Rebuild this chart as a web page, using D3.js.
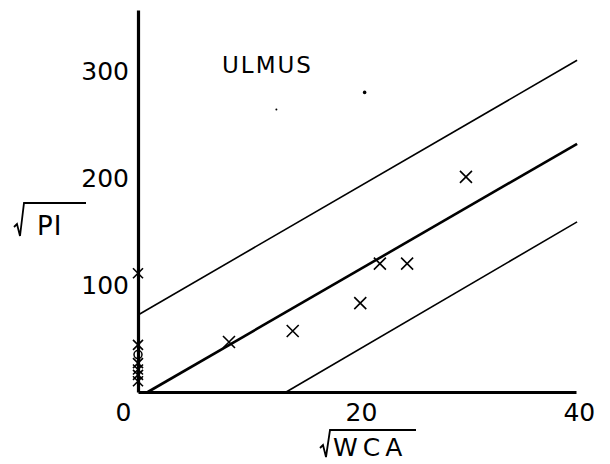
<!DOCTYPE html>
<html>
<head>
<meta charset="utf-8">
<script src="https://cdn.jsdelivr.net/npm/d3@7"></script>
<style>
  body { margin: 0; background: #fff; }
  svg { display: block; font-family: 'DejaVu Sans', sans-serif; }
</style>
</head>
<body>
<div id="chart"></div>
<script>
'use strict';

// sqrt(WCA) vs sqrt(PI) for Ulmus
var xTicks = [0, 20, 40];
var yTicks = [100, 200, 300];

var pointsX = [8.35, 14.2, 20.4, 22.2, 24.7, 30.1];
var pointsY = [46.7, 57, 83, 120, 120, 201];

// samples sitting on the y axis (sqrt WCA = 0)
var axisPointsY = [111, 44, 27, 21, 16, 10];
var axisCircleY = [35];

// fitted line and its two bounds, as end points [x, y]
var centerLine = [[0.9, 0], [40.3, 232]];
var upperLine = [[0, 72], [40.3, 310]];
var lowerLine = [[13.6, 0], [40.3, 159]];

// scan specks
var specksX = [20.8, 12.7];
var specksY = [280, 264];

var W = 610, H = 464;

var x = d3.scaleLinear().domain([0, 40.2]).range([138, 576]);
var y = d3.scaleLinear().domain([0, 357]).range([392, 10]);

var svg = d3.select('#chart')
    .append('svg')
    .attr('width', W)
    .attr('height', H);

var line = d3.line()
    .x(function (d) { return x(d[0]); })
    .y(function (d) { return y(d[1]); });

// bound lines (thin)
svg.selectAll('path.bound')
    .data([upperLine, lowerLine])
    .enter()
    .append('path')
    .attr('class', 'bound')
    .attr('d', line)
    .attr('fill', 'none')
    .attr('stroke', '#000')
    .attr('stroke-width', 1.6);

// fitted line (thick)
svg.append('path')
    .attr('d', line(centerLine))
    .attr('fill', 'none')
    .attr('stroke', '#000')
    .attr('stroke-width', 2.6);

// axes
var xAxis = svg.append('g')
    .attr('transform', 'translate(0,' + y(0) + ')')
    .call(d3.axisBottom(x).tickValues(xTicks).tickSize(0).tickPadding(11).tickFormat(d3.format('d')));

var yAxis = svg.append('g')
    .attr('transform', 'translate(' + x(0) + ',0)')
    .call(d3.axisLeft(y).tickValues(yTicks).tickSize(0).tickPadding(9).tickFormat(d3.format('d')));

[xAxis, yAxis].forEach(function (g) {
    g.select('.domain').attr('stroke', '#000').attr('stroke-width', 3.2);
    g.selectAll('text')
        .attr('fill', '#000')
        .attr('font-family', 'DejaVu Sans, sans-serif')
        .attr('font-size', 25);
});

xAxis.selectAll('.tick text').attr('dx', function (d) { return d === 0 ? -15 : 5; });
yAxis.selectAll('.tick text').attr('dy', '0.34em');

// cross markers
function cross(sel, size) {
    sel.append('path')
        .attr('d', 'M' + (-size) + ',' + (-size) + 'L' + size + ',' + size +
                   'M' + (-size) + ',' + size + 'L' + size + ',' + (-size))
        .attr('stroke', '#000')
        .attr('stroke-width', 1.6)
        .attr('fill', 'none');
}

svg.selectAll('g.pt')
    .data(pointsX)
    .enter()
    .append('g')
    .attr('class', 'pt')
    .attr('transform', function (d, i) {
        return 'translate(' + x(d) + ',' + y(pointsY[i]) + ')';
    })
    .call(cross, 6);

svg.selectAll('g.axpt')
    .data(axisPointsY)
    .enter()
    .append('g')
    .attr('class', 'axpt')
    .attr('transform', function (d) {
        return 'translate(' + x(0) + ',' + y(d) + ')';
    })
    .call(cross, 5);

svg.selectAll('circle.axc')
    .data(axisCircleY)
    .enter()
    .append('circle')
    .attr('class', 'axc')
    .attr('cx', x(0))
    .attr('cy', function (d) { return y(d); })
    .attr('r', 4)
    .attr('fill', 'none')
    .attr('stroke', '#000')
    .attr('stroke-width', 1.5);

svg.selectAll('circle.speck')
    .data(specksX)
    .enter()
    .append('circle')
    .attr('class', 'speck')
    .attr('cx', function (d) { return x(d); })
    .attr('cy', function (d, i) { return y(specksY[i]); })
    .attr('r', function (d, i) { return i === 0 ? 1.8 : 1; })
    .attr('fill', '#000');

// title
svg.append('text')
    .attr('x', 222)
    .attr('y', 73)
    .attr('font-size', 23)
    .attr('letter-spacing', 2)
    .text('ULMUS');

// axis titles with radical signs
function radical(x0, yTop, yBot, barEnd) {
    svg.append('path')
        .attr('d', 'M' + x0 + ',' + (yBot - 9) + 'L' + (x0 + 3) + ',' + (yBot - 12) +
                   'L' + (x0 + 6) + ',' + yBot + 'L' + (x0 + 10) + ',' + yTop + 'L' + barEnd + ',' + yTop)
        .attr('fill', 'none')
        .attr('stroke', '#000')
        .attr('stroke-width', 1.8);
}

radical(14, 203, 236, 86);
svg.append('text')
    .attr('x', 37)
    .attr('y', 235)
    .attr('font-size', 26)
    .attr('letter-spacing', 1)
    .text('PI');

radical(320, 430, 457, 416);
svg.append('text')
    .attr('x', 333)
    .attr('y', 456)
    .attr('font-size', 25)
    .attr('letter-spacing', 5)
    .text('WCA');
</script>
</body>
</html>
